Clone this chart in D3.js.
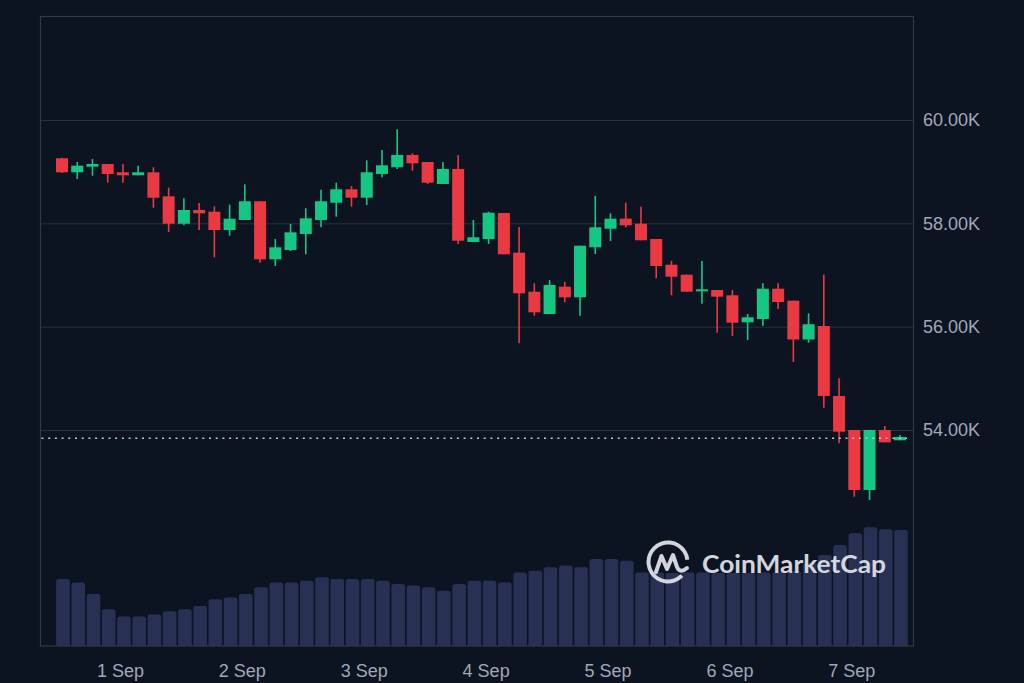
<!DOCTYPE html>
<html><head><meta charset="utf-8">
<script src="https://cdn.jsdelivr.net/npm/d3@7"></script>
<style>
html,body{margin:0;padding:0;background:#0d1421;}
svg{display:block;}
</style></head><body>
<svg id="chart" width="1024" height="683"></svg>
<script>
// ---- data (3-hour candles, BTC/USD) ----
const startTime = "2024-08-31T12:00:00Z";
const stepHours = 3;
const open = [59259,58988,59096,59148,58988,58930,58988,58523,57993,58258,58225,57871,58065,58427,57304,57484,57794,58065,58399,58659,58496,58955,59085,59323,59187,58761,59052,57639,57697,58200,57432,56677,56245,56774,56568,57536,57896,58090,57993,57697,57199,57006,56685,56710,56607,56085,56148,56735,56503,55752,56013,54658,54000,52839,54000,53801];
const high = [59270,59187,59245,59148,59148,59116,59085,58690,58485,58394,58330,58361,58756,58427,57697,57987,58291,58651,58787,58723,59220,59419,59820,59356,59187,59187,59323,58065,58225,58200,57929,56839,56903,56870,57567,58529,58194,58399,58322,57697,57271,57006,57271,56710,56710,56245,56839,56839,56503,56259,57010,55001,54000,54000,54077,53903];
const low = [58975,58858,58922,58787,58787,58930,58303,57832,57962,57871,57343,57761,58065,57238,57174,57464,57401,57923,58128,58322,58355,58891,59052,59019,58761,58761,57600,57639,57600,57401,55678,56212,56245,56472,56212,57406,57658,57923,57672,56936,56607,56677,56445,55883,55819,55742,56013,56342,55316,55690,54432,53743,52709,52645,53762,53801];
const close = [58988,59116,59148,58955,58930,58988,58496,57993,58258,58194,57871,58090,58427,57304,57536,57826,58097,58427,58659,58496,58988,59123,59323,59162,58787,59052,57664,57730,58206,57401,56646,56278,56807,56568,57567,57923,58090,57962,57672,57174,56967,56677,56723,56580,56077,56181,56735,56477,55752,56046,54658,53967,52839,54000,53762,53865];
const volume = [16.75,15.9,13.0,9.2,7.4,7.4,7.9,8.7,9.2,10.0,11.7,12.1,13.0,14.7,15.9,15.9,16.3,17.2,16.75,16.75,16.75,16.3,15.5,15.1,14.7,13.8,15.5,16.3,16.3,15.9,18.4,18.8,19.7,20.1,19.7,21.75,21.75,21.3,18.4,18.4,18.25,18.4,18.4,18.25,18.25,18.25,18.4,18.5,18.75,20.75,22.75,25.25,28.2,29.7,29.2,29.0];
const priceTicks = [54000,56000,58000,60000];
const dayTicks = ["2024-09-01","2024-09-02","2024-09-03","2024-09-04","2024-09-05","2024-09-06","2024-09-07"];
const dayLabels = ["1 Sep","2 Sep","3 Sep","4 Sep","5 Sep","6 Sep","7 Sep"];
const currentPrice = 53840;

// ---- layout ----
const W = 1024, H = 683;
const frame = {left: 40.5, top: 16.5, right: 913.5, bottom: 646};
const C = {bg:"#0d1421", grid:"#2a313d", frame:"#323946", text:"#a1a7bb",
           up:"#16c784", down:"#ea3943", vol:"#283154", logo:"#e3e6ec"};

const t0 = new Date(startTime);
const times = open.map((_, i) => d3.utcHour.offset(t0, i * stepHours));
const candles = times.map((t, i) => ({t, o: open[i], h: high[i], l: low[i], c: close[i], v: volume[i]}));

const svg = d3.select("#chart");
svg.append("rect").attr("width", W).attr("height", H).attr("fill", C.bg);

const x = d3.scaleUtc().domain([times[0], times[times.length - 1]]).range([62, 900]);
const y = d3.scaleLinear().domain([54000, 60000]).range([430, 120]);
const yVol = d3.scaleLinear().domain([0, 30]).range([frame.bottom, 526]);

// gridlines + price axis labels
const yAxis = d3.axisRight(y).tickValues(priceTicks)
  .tickSize(-(frame.right - frame.left))
  .tickPadding(10)
  .tickFormat(d => d3.format(".2f")(d / 1000) + "K");
const gy = svg.append("g").attr("transform", `translate(${frame.right},0)`).call(yAxis);
gy.select(".domain").remove();
gy.selectAll(".tick line").attr("stroke", C.grid).attr("stroke-width", 1);
gy.selectAll(".tick text").attr("fill", C.text)
  .attr("font-family", "'Liberation Sans', Arial, sans-serif").attr("font-size", 18)
  .attr("x", 9.5);

// volume bars
const bw = 13.6;
svg.append("g").selectAll("path").data(candles).join("path")
  .attr("fill", C.vol)
  .attr("d", d => {
    const cx = x(d.t) + 1, x0 = cx - bw / 2, x1 = cx + bw / 2;
    const yt = yVol(d.v), yb = yVol(0), r = 2.5;
    return `M${x0},${yb}V${yt + r}Q${x0},${yt} ${x0 + r},${yt}H${x1 - r}Q${x1},${yt} ${x1},${yt + r}V${yb}Z`;
  });

// frame
svg.append("rect")
  .attr("x", frame.left).attr("y", frame.top)
  .attr("width", frame.right - frame.left).attr("height", frame.bottom - frame.top)
  .attr("fill", "none").attr("stroke", C.frame).attr("stroke-width", 1.2);

// candles
const cw = 12;
const gc = svg.append("g");
gc.selectAll("line").data(candles).join("line")
  .attr("x1", d => x(d.t)).attr("x2", d => x(d.t))
  .attr("y1", d => y(d.h)).attr("y2", d => y(d.l))
  .attr("stroke", d => d.c >= d.o ? C.up : C.down).attr("stroke-width", 1.6);
gc.selectAll("rect").data(candles).join("rect")
  .attr("x", d => x(d.t) - cw / 2).attr("width", cw)
  .attr("y", d => y(Math.max(d.o, d.c)))
  .attr("height", d => Math.max(2, Math.abs(y(d.o) - y(d.c))))
  .attr("fill", d => d.c >= d.o ? C.up : C.down);

// current price dotted line
svg.append("line")
  .attr("x1", frame.left + 1).attr("x2", 907)
  .attr("y1", y(currentPrice)).attr("y2", y(currentPrice))
  .attr("stroke", "#c3c7cf").attr("stroke-width", 1.3)
  .attr("stroke-dasharray", "2,4.7");

// x axis labels
const xAxis = d3.axisBottom(x).tickValues(dayTicks.map(d => new Date(d + "T00:00:00Z")))
  .tickSize(0).tickFormat((d, i) => dayLabels[i]);
const gx = svg.append("g").attr("transform", `translate(-3,${frame.bottom})`).call(xAxis);
gx.select(".domain").remove();
gx.selectAll(".tick text").attr("fill", C.text)
  .attr("font-family", "'Liberation Sans', Arial, sans-serif").attr("font-size", 18)
  .attr("y", 18).attr("dy", "0.71em");

// watermark logo
const lg = svg.append("g").attr("opacity", 0.92);
const arc = d3.arc().innerRadius(17.5).outerRadius(21.5).startAngle(2.35).endAngle(2 * Math.PI + 1.45);
lg.append("path").attr("d", arc()).attr("transform", "translate(668,562)").attr("fill", C.logo);
lg.append("path")
  .attr("d", "M656,572 L661.5,556 L667,569 L673,555 L677,567 Q680,574 687,568")
  .attr("fill", "none").attr("stroke", C.logo).attr("stroke-width", 4)
  .attr("stroke-linejoin", "round").attr("stroke-linecap", "round");
lg.append("text").attr("x", 702).attr("y", 573)
  .attr("font-family", "Lato, 'Open Sans', sans-serif").attr("font-weight", 700)
  .attr("font-size", 25).attr("fill", C.logo)
  .attr("textLength", 184).attr("lengthAdjust", "spacingAndGlyphs")
  .text("CoinMarketCap");
</script>
</body></html>
